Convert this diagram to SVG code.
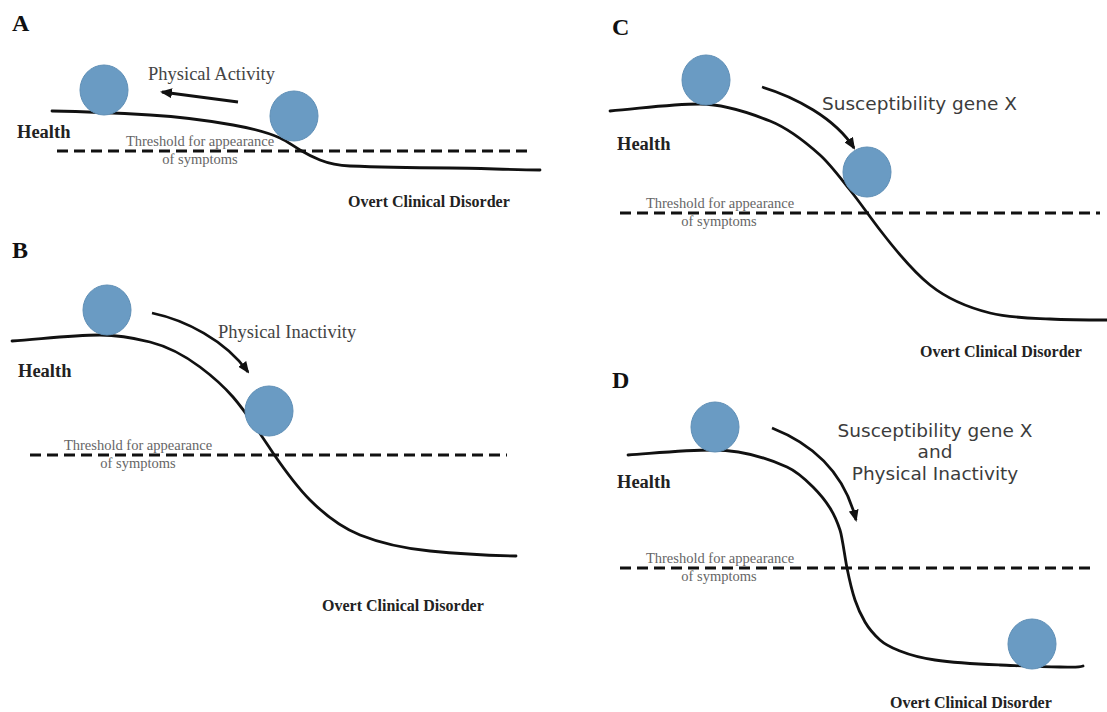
<svg xmlns="http://www.w3.org/2000/svg" width="1107" height="712" viewBox="0 0 1107 712">
<style>
.panel{font-family:"Liberation Serif","Times New Roman",serif;font-weight:bold;font-size:24px;fill:#111}
.health{font-family:"Liberation Serif","Times New Roman",serif;font-weight:bold;font-size:18.5px;fill:#222}
.ocd{font-family:"Liberation Serif","Times New Roman",serif;font-weight:bold;font-size:16px;fill:#222}
.thr{font-family:"Liberation Serif","Times New Roman",serif;font-size:14.5px;fill:#666;text-anchor:middle}
.lab{font-family:"Liberation Serif","Times New Roman",serif;font-size:18.5px;fill:#444}
.sans{font-family:"DejaVu Sans",Verdana,sans-serif;font-size:18.5px;fill:#3c3c3c}
.curve{fill:none;stroke:#111;stroke-width:2.8;stroke-linecap:round}
.dash{fill:none;stroke:#111;stroke-width:3;stroke-dasharray:11 6}
.arrow{fill:none;stroke:#111;stroke-width:2.8;marker-end:url(#ah)}
.ball{fill:#6a9bc3;stroke:#5f8fb6;stroke-width:1}
</style>
<defs>
<marker id="ah" markerUnits="userSpaceOnUse" markerWidth="12" markerHeight="10" refX="10" refY="5" orient="auto">
<path d="M0,0 L12,5 L0,10 Z" fill="#111"/>
</marker>
</defs>
<rect width="1107" height="712" fill="#ffffff"/>

<g id="panelA">
<text class="panel" x="12" y="31">A</text>
<path class="dash" d="M57,151 H532"/>
<path class="curve" d="M52,111 C84.7,111.65 117.3,113.04 150,115 C177.7,116.7 205.3,120 233,125 C248.7,127.8 264.3,130.9 280,138 C286.7,141 293.3,146 300,150 C306.7,154 313.3,157.3 320,160 C330,164 340,165.6 350,166 C383.3,167.3 416.7,167.7 450,168 C480,168.3 510,169.7 540,170"/>
<text class="health" x="17" y="138">Health</text>
<text class="thr" x="200" y="146">Threshold for appearance</text>
<text class="thr" x="200" y="164">of symptoms</text>
<text class="ocd" x="348" y="207">Overt Clinical Disorder</text>
<text class="lab" x="148" y="80">Physical Activity</text>
<ellipse id="ballA1" class="ball" cx="104" cy="90" rx="24" ry="25"/>
<ellipse id="ballA2" class="ball" cx="294" cy="116" rx="24" ry="25"/>
</g>

<g id="panelB">
<text class="panel" x="12" y="258">B</text>
<path class="dash" d="M30,455 H507"/>
<path class="curve" d="M12,341 C41.3,339 70.7,335 100,335 C116.7,335 133.3,337.8 150,342 C166.7,346.2 183.3,354.5 200,367 C211,375.25 222,384.35 233,397 C246.3,412.3 259.7,433 273,453 C285.3,470.9 297.7,487.7 310,500 C326.7,516.7 343.3,528.3 360,535 C383.3,544.3 406.7,548.7 430,551 C458.7,553.9 487.3,555.4 516,556"/>
<text class="health" x="18" y="377">Health</text>
<text class="thr" x="138" y="450">Threshold for appearance</text>
<text class="thr" x="138" y="468">of symptoms</text>
<text class="ocd" x="322" y="611">Overt Clinical Disorder</text>
<text class="lab" x="218" y="338">Physical Inactivity</text>
<ellipse id="ballB1" class="ball" cx="107" cy="310" rx="24" ry="25"/>
<ellipse id="ballB2" class="ball" cx="269" cy="411" rx="24" ry="25"/>
</g>

<g id="panelC">
<text class="panel" x="612" y="35">C</text>
<path class="dash" d="M620,213 H1100"/>
<path class="curve" d="M610,111 C640,108.6 670,104 700,104 C723.3,104 746.7,111.7 770,121 C786.7,127.7 803.3,140 820,155 C830,164 840,177.5 850,190 C860,202.5 870,217 880,230 C896.7,251.7 913.3,271.7 930,285 C950,301 970,308 990,313 C1010,318 1030,318 1050,319 C1069,320 1088,320 1107,320"/>
<text class="health" x="617" y="150">Health</text>
<text class="thr" x="720" y="208">Threshold for appearance</text>
<text class="thr" x="719" y="226">of symptoms</text>
<text class="ocd" x="920" y="357">Overt Clinical Disorder</text>
<text class="sans" x="822" y="110">Susceptibility gene X</text>
<ellipse id="ballC1" class="ball" cx="706" cy="80" rx="24" ry="25"/>
<ellipse id="ballC2" class="ball" cx="867" cy="172" rx="24" ry="25"/>
</g>

<g id="panelD">
<text class="panel" x="612" y="388">D</text>
<path class="dash" d="M620,568 H1095"/>
<path class="curve" d="M628,455 C656.3,453 684.7,450 713,450 C737.7,450 762.3,455.9 787,467 C795.7,470.9 804.3,478.3 813,487 C818.7,492.7 824.3,498.9 830,508 C833.3,513.3 836.7,520 840,530 C842.3,537 844.7,556.3 847,568 C849.7,581.3 852.3,592 855,600 C858.3,610 861.7,616.3 865,622 C870,630.5 875,635.5 880,640 C886.7,646 893.3,648.3 900,651 C911.7,655.7 923.3,658.25 935,660 C956.7,663.25 978.3,664.1 1000,665 C1020,665.8 1040,667 1060,667 C1070,667 1078,668 1083,666"/>
<text class="health" x="617" y="488">Health</text>
<text class="thr" x="720" y="563">Threshold for appearance</text>
<text class="thr" x="719" y="581">of symptoms</text>
<text class="ocd" x="890" y="708">Overt Clinical Disorder</text>
<text class="sans" x="935" y="437" text-anchor="middle">Susceptibility gene X</text>
<text class="sans" x="935" y="458" text-anchor="middle">and</text>
<text class="sans" x="935" y="480" text-anchor="middle">Physical Inactivity</text>
<ellipse id="ballD1" class="ball" cx="715" cy="427" rx="24" ry="25"/>
<ellipse id="ballD2" class="ball" cx="1032" cy="644" rx="24" ry="25"/>
</g>

<g id="connectors">
<path class="arrow" d="M238,102 L162,92"/>
<path class="arrow" d="M152,313 C185,320 225,340 248,372"/>
<path class="arrow" d="M762,87 C795,97 835,118 854,148"/>
<path class="arrow" d="M772,428 C815,445 845,475 856,520"/>
</g>
</svg>
